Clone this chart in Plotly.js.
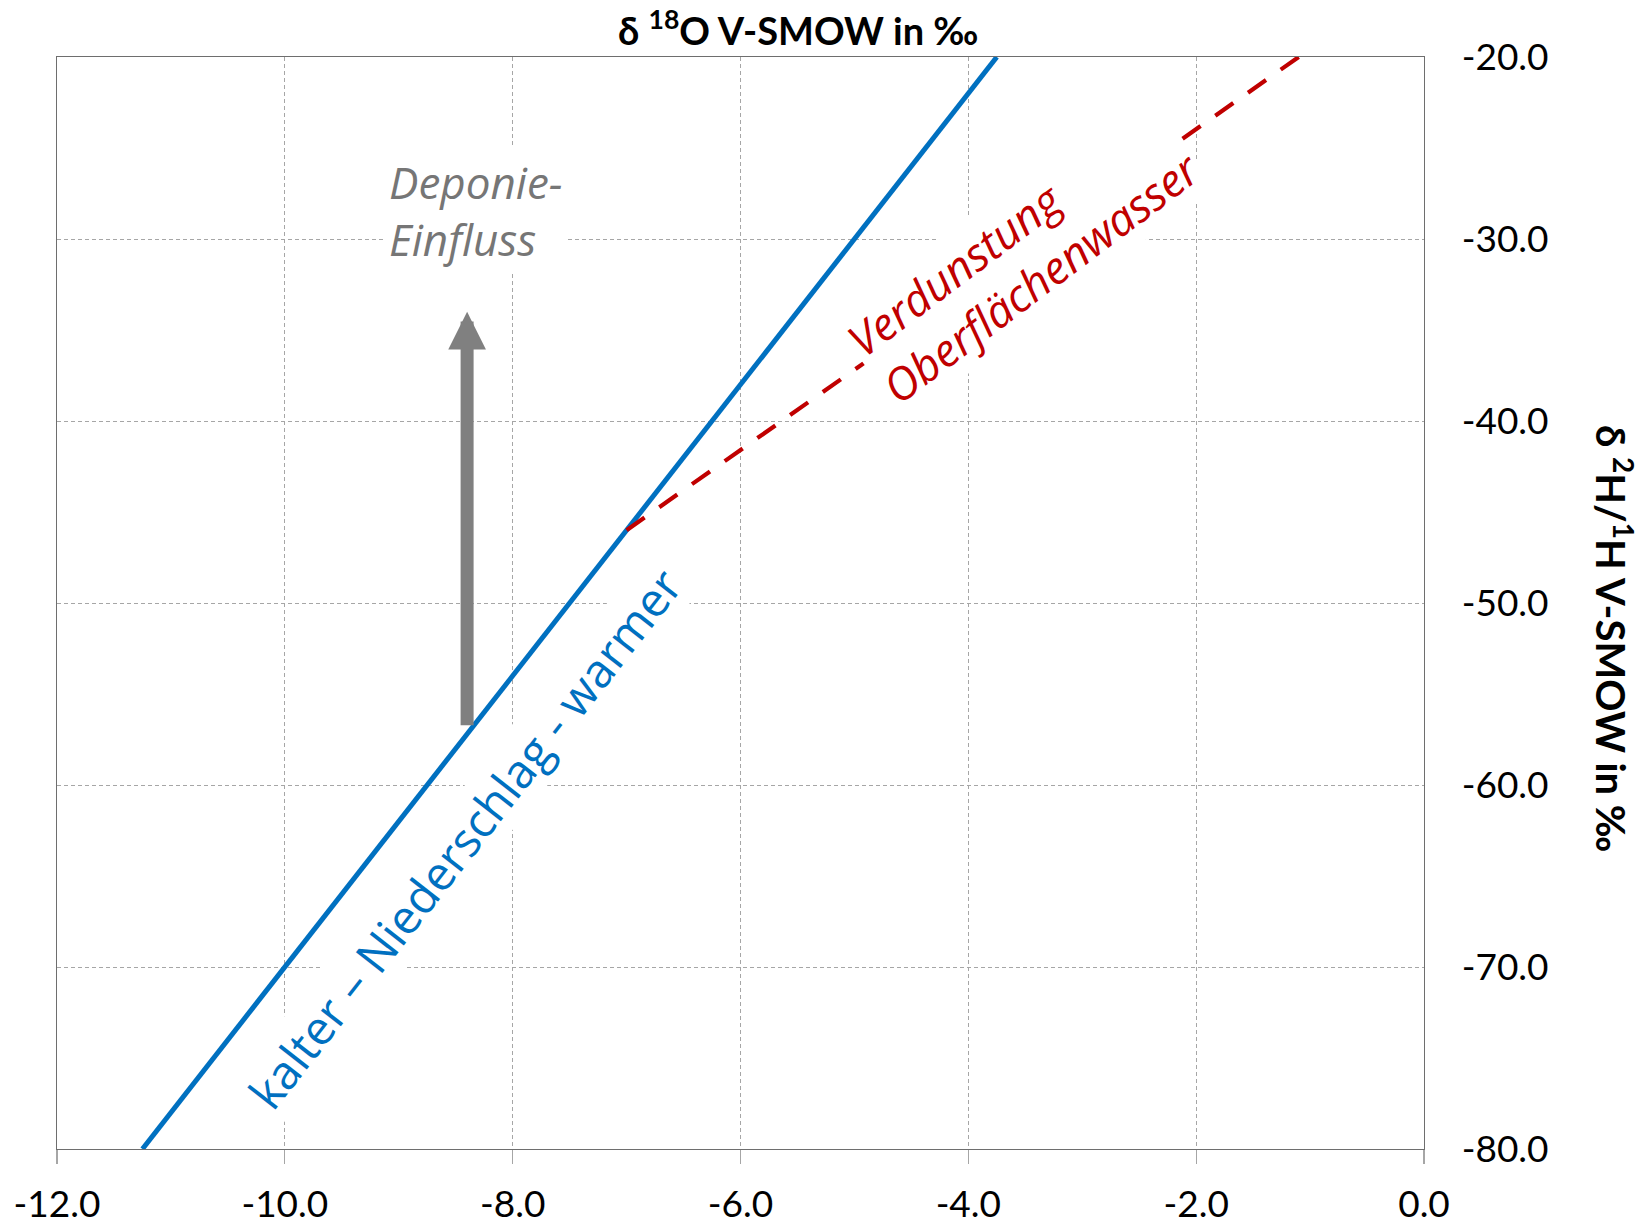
<!DOCTYPE html>
<html>
<head>
<meta charset="utf-8">
<script src="https://cdn.plot.ly/plotly-3.0.1.min.js"></script>
<style>
  html, body { margin: 0; padding: 0; background: #ffffff; }
  #chart { width: 1642px; height: 1224px; }
</style>
</head>
<body>
<div id="chart"></div>
<script>
// ---- data ----
// Niederschlagsgerade (blue, solid)
const gmwlX = [-11.25, -3.75];
const gmwlY = [-80, -20];
// Verdunstungsgerade (red, dashed)
const evapX = [-7.0, -1.1];
const evapY = [-46.0, -20.0];
// Deponie-Einfluss arrow (vertical)
const arrowX = -8.4;
const arrowFromY = -56.8;
const arrowToY = -34.0;
// axes
const xRange = [-12, 0];
const yRange = [-80, -20];
const xTickVals = [-12, -10, -8, -6, -4, -2, 0];
const xTickText = ['-12.0', '-10.0', '-8.0', '-6.0', '-4.0', '-2.0', '0.0'];
const yTickVals = [-80, -70, -60, -50, -40, -30, -20];
const yTickText = ['-80.0', '-70.0', '-60.0', '-50.0', '-40.0', '-30.0', '-20.0'];
const xTitle = 'δ <sup>18</sup>O V-SMOW in ‰';
const yTitle = 'δ <sup>2</sup>H/<sup>1</sup>H V-SMOW in ‰';
// annotation texts
const labelPrecip = 'kalter – Niederschlag - warmer';
const labelPrecipPos = [-8.42, -62.9];
const labelEvap = 'Verdunstung<br>Oberflächenwasser';
const labelEvapPos = [-3.52, -30.8];
const labelDeponie = 'Deponie-<br>Einfluss';
const labelDeponiePos = [-9.13, -28.45];

const tickFont = { family: 'Lato, "Open Sans", sans-serif', size: 37, color: '#000000' };
const titleFont = { family: 'Lato, "Open Sans", sans-serif', size: 38, color: '#000000', weight: 'bold' };
const yTitleFont = { family: 'Lato, "Open Sans", sans-serif', size: 40, color: '#000000', weight: 'bold' };
const noteFamily = '"Open Sans", "Noto Sans", sans-serif';

const traces = [
  {
    type: 'scatter', mode: 'lines', x: gmwlX, y: gmwlY,
    line: { color: '#0070C0', width: 5 },
    hoverinfo: 'skip', showlegend: false
  },
  {
    type: 'scatter', mode: 'lines', x: evapX, y: evapY,
    line: { color: '#C00000', width: 4.2, dash: '22px,18px' },
    hoverinfo: 'skip', showlegend: false
  }
];

const layout = {
  width: 1642, height: 1224,
  margin: { l: 57, r: 218, t: 57, b: 75, pad: 0 },
  paper_bgcolor: '#ffffff', plot_bgcolor: '#ffffff',
  showlegend: false,
  xaxis: {
    range: xRange, tickmode: 'array', tickvals: xTickVals, ticktext: xTickText,
    showgrid: true, gridcolor: '#a6a6a6', gridwidth: 1, griddash: '4px,3px',
    zeroline: false,
    showline: true, linecolor: '#6e6e6e', linewidth: 1.3, mirror: true,
    ticks: 'outside', ticklen: 14, tickcolor: '#a6a6a6', tickwidth: 1.3,
    tickfont: tickFont, ticklabelstandoff: 8,
    fixedrange: true
  },
  yaxis: {
    range: yRange, tickmode: 'array', tickvals: yTickVals, ticktext: yTickText,
    side: 'right',
    showgrid: true, gridcolor: '#a6a6a6', gridwidth: 1, griddash: '4px,3px',
    zeroline: false,
    showline: true, linecolor: '#6e6e6e', linewidth: 1.3, mirror: true,
    ticks: '', ticklabelstandoff: 29,
    tickfont: tickFont,
    fixedrange: true
  },
  annotations: [
    { // top x title
      text: xTitle, xref: 'paper', yref: 'paper', x: 0.542, y: 1.0265,
      xanchor: 'center', yanchor: 'middle', showarrow: false, font: titleFont
    },
    { // right y title
      text: yTitle, xref: 'paper', yref: 'paper', x: 1.139, y: 0.468,
      xanchor: 'center', yanchor: 'middle', textangle: 90, showarrow: false, font: yTitleFont
    },
    { // Deponie arrow
      text: '', x: arrowX, y: arrowToY, ax: arrowX, ay: arrowFromY,
      xref: 'x', yref: 'y', axref: 'x', ayref: 'y',
      showarrow: true, arrowhead: 2, arrowsize: 0.58, arrowwidth: 13,
      arrowcolor: '#808080', standoff: 0, startstandoff: 0
    },
    {
      text: labelDeponie, x: labelDeponiePos[0], y: labelDeponiePos[1], xref: 'x', yref: 'y',
      xanchor: 'left', yanchor: 'middle', align: 'left', showarrow: false,
      bgcolor: '#ffffff', borderpad: 4,
      font: { family: noteFamily, size: 44, color: '#767676', style: 'italic' }
    },
    {
      text: labelEvap, x: labelEvapPos[0], y: labelEvapPos[1], xref: 'x', yref: 'y',
      xanchor: 'center', yanchor: 'middle', align: 'left', textangle: -37, showarrow: false,
      bgcolor: '#ffffff', borderpad: 2,
      font: { family: noteFamily, size: 45, color: '#C00000', style: 'italic' }
    },
    {
      text: labelPrecip, x: labelPrecipPos[0], y: labelPrecipPos[1], xref: 'x', yref: 'y',
      xanchor: 'center', yanchor: 'middle', textangle: -52, showarrow: false,
      bgcolor: '#ffffff', borderpad: 0,
      font: { family: noteFamily, size: 47, color: '#0070C0' }
    }
  ]
};

Plotly.newPlot('chart', traces, layout, { displayModeBar: false, staticPlot: true });
</script>
</body>
</html>
